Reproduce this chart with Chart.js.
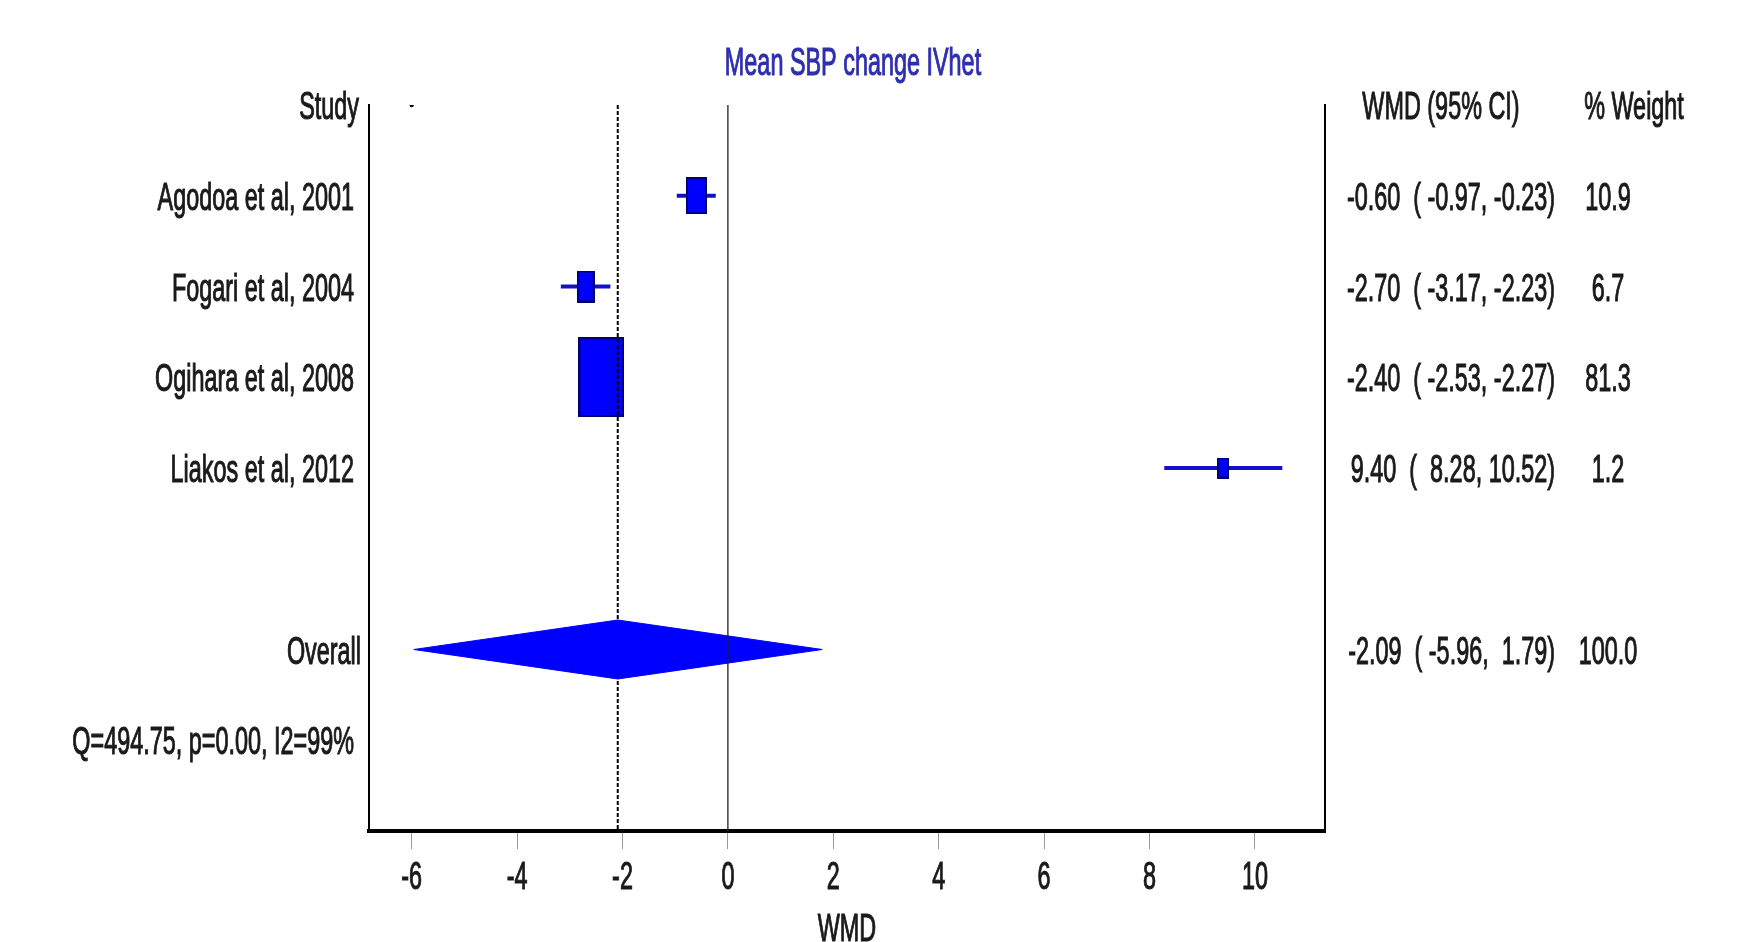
<!DOCTYPE html>
<html>
<head>
<meta charset="utf-8">
<script src="https://cdn.jsdelivr.net/npm/chart.js@4.4.1/dist/chart.umd.min.js"></script>
<style>
  html, body { margin: 0; padding: 0; background: #fff; }
  canvas { display: block; }
</style>
</head>
<body>
<canvas id="forest" width="1742" height="942"></canvas>
<script>
// study level results (row 1..4), overall on row 6
const studies = ["Agodoa et al, 2001", "Fogari et al, 2004", "Ogihara et al, 2008", "Liakos et al, 2012"];
const wmd = [-0.60, -2.70, -2.40, 9.40];
const ciLow = [-0.97, -3.17, -2.53, 8.28];
const ciHigh = [-0.23, -2.23, -2.27, 10.52];
const weights = [10.9, 6.7, 81.3, 1.2];
const overall = [-2.09, -5.96, 1.79];   // estimate, lower, upper
const heterogeneity = "Q=494.75, p=0.00, I2=99%";
const xTicks = [-6, -4, -2, 0, 2, 4, 6, 8, 10];

const studyRows = [1, 2, 3, 4];
const overallRow = 6;
const hetRow = 7;

const FONT = '"Liberation Sans", Arial, sans-serif';
const SQUEEZE = 0.6;      // the original text is horizontally compressed
const DIAMOND_HALF = 0.325;

function fmt(v) { return v.toFixed(2).padStart(5, " "); }
function ciText(e, lo, hi) { return fmt(e) + "  ( " + fmt(lo) + ", " + fmt(hi) + ")"; }

// box markers, size grows with sqrt(weight)
function makeBox(w) {
    const h = Math.round(12.8 + 7.45 * Math.sqrt(w));
    const bw = Math.round(h * 0.57);
    const c = document.createElement("canvas");
    c.width = bw; c.height = h;
    const g = c.getContext("2d");
    g.fillStyle = "#0000ff";
    g.fillRect(0, 0, bw, h);
    g.strokeStyle = "#00006e";
    g.lineWidth = 2;
    g.strokeRect(1, 1, bw - 2, h - 2);
    return c;
}

function txt(ctx, s, x, y, align, color) {
    ctx.save();
    ctx.translate(x, y + 14);
    ctx.scale(SQUEEZE, 1);
    ctx.font = "39px " + FONT;
    ctx.fillStyle = color || "#1a1a1a";
    ctx.strokeStyle = color || "#1a1a1a";
    ctx.lineWidth = 1.1;
    ctx.textAlign = align;
    ctx.textBaseline = "alphabetic";
    ctx.fillText(s, 0, 0);
    ctx.strokeText(s, 0, 0);
    ctx.restore();
}

const textPlugin = {
    id: "forestText",
    afterDraw(chart) {
        const ctx = chart.ctx;
        const xs = chart.scales.x, ys = chart.scales.y;
        const left = chart.chartArea.left;
        // title
        txt(ctx, "Mean SBP change IVhet", 853, 61, "center", "#2e2eb0");
        // left column
        txt(ctx, "Study", left - 10, ys.getPixelForValue(0), "right");
        studies.forEach((s, i) => txt(ctx, s, left - 15, ys.getPixelForValue(studyRows[i]), "right"));
        txt(ctx, "Overall", left - 8, ys.getPixelForValue(overallRow), "right");
        txt(ctx, heterogeneity, left - 15, ys.getPixelForValue(hetRow), "right");
        // right columns
        txt(ctx, "WMD (95% CI)", 1441, ys.getPixelForValue(0), "center");
        txt(ctx, "% Weight", 1634, ys.getPixelForValue(0), "center");
        studies.forEach((s, i) => {
            const y = ys.getPixelForValue(studyRows[i]);
            txt(ctx, ciText(wmd[i], ciLow[i], ciHigh[i]), 1555, y, "right");
            txt(ctx, weights[i].toFixed(1), 1608, y, "center");
        });
        const yo = ys.getPixelForValue(overallRow);
        txt(ctx, ciText(overall[0], overall[1], overall[2]), 1555, yo, "right");
        txt(ctx, (100).toFixed(1), 1608, yo, "center");
        // x tick labels + axis title
        xTicks.forEach(v => txt(ctx, String(v), xs.getPixelForValue(v), 875, "center"));
        txt(ctx, "WMD", (chart.chartArea.left + chart.chartArea.right) / 2, 927, "center");
    }
};

const boxes = weights.map(makeBox);

const datasets = [];
// no-effect line (thin, on top)
datasets.push({
    data: [{ x: 0, y: 0 }, { x: 0, y: 8 }],
    borderColor: "#222", borderWidth: 1.3, pointRadius: 0, order: 0
});
// overall diamond: upper half, then lower half filled to it
datasets.push({
    data: [{ x: overall[1], y: overallRow }, { x: overall[0], y: overallRow - DIAMOND_HALF }, { x: overall[2], y: overallRow }],
    borderColor: "#0000ff", borderWidth: 1, pointRadius: 0, order: 1
});
datasets.push({
    data: [{ x: overall[1], y: overallRow }, { x: overall[0], y: overallRow + DIAMOND_HALF }, { x: overall[2], y: overallRow }],
    borderColor: "#0000ff", borderWidth: 1, pointRadius: 0, order: 1,
    fill: "-1", backgroundColor: "#0000ff"
});
// overall dashed line
datasets.push({
    data: [{ x: overall[0], y: 0 }, { x: overall[0], y: 8 }],
    borderColor: "#000", borderWidth: 2, borderDash: [4, 2], pointRadius: 0, order: 2
});
// study boxes
datasets.push({
    data: wmd.map((v, i) => ({ x: v, y: studyRows[i] })),
    showLine: false, pointStyle: boxes, pointRadius: 10, order: 3
});
// confidence intervals
studies.forEach((s, i) => {
    datasets.push({
        data: [{ x: ciLow[i], y: studyRows[i] }, { x: ciHigh[i], y: studyRows[i] }],
        borderColor: "#1212c4", borderWidth: 4, pointRadius: 0, order: 4
    });
});
// small header dot
datasets.push({
    data: [{ x: -6, y: 0 }],
    showLine: false, pointRadius: 2.2, pointBackgroundColor: "#000", pointBorderWidth: 0, order: 5
});

new Chart(document.getElementById("forest"), {
    type: "line",
    data: { datasets },
    plugins: [textPlugin],
    options: {
        responsive: false,
        animation: false,
        events: [],
        layout: { padding: { left: 369, right: 417, top: 105, bottom: 0 } },
        plugins: { legend: { display: false }, tooltip: { enabled: false } },
        scales: {
            x: {
                type: "linear",
                min: -6.81, max: 11.33,
                afterBuildTicks: s => { s.ticks = xTicks.map(v => ({ value: v })); },
                afterFit: s => { s.height = 111; },
                ticks: { display: false },
                grid: { drawOnChartArea: false, drawTicks: true, tickLength: 18, color: "#999", lineWidth: 1 },
                border: { display: true, color: "#000", width: 4 }
            },
            y: {
                type: "linear",
                min: 0, max: 8, reverse: true,
                position: "left",
                afterFit: s => { s.width = 0; },
                ticks: { display: false },
                grid: { display: false },
                border: { display: true, color: "#000", width: 2 }
            },
            y2: {
                type: "linear",
                min: 0, max: 8,
                position: "right",
                afterFit: s => { s.width = 0; },
                ticks: { display: false },
                grid: { display: false },
                border: { display: true, color: "#000", width: 2 }
            }
        }
    }
});
</script>
</body>
</html>
